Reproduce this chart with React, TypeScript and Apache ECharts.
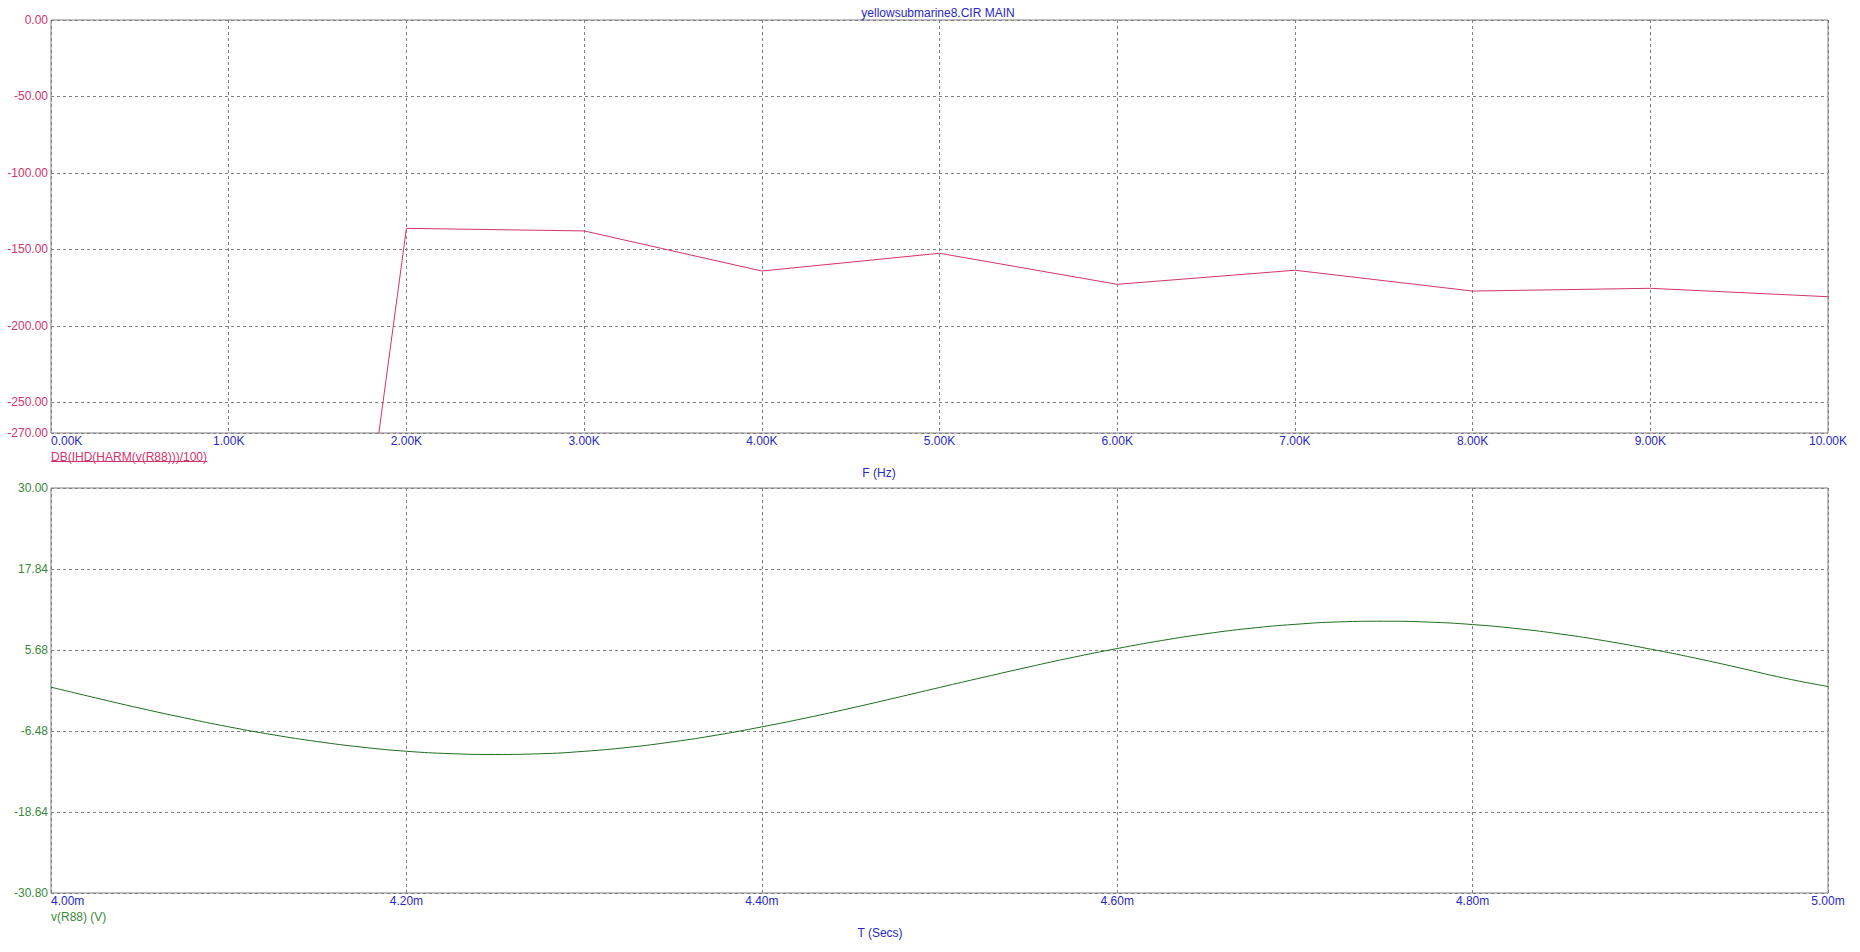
import { useEffect, useRef } from 'react';
import * as echarts from 'echarts';

// Top plot: harmonic distortion (dB) vs frequency
const harmonicFreqHz = [1000, 2000, 3000, 4000, 5000, 6000, 7000, 8000, 9000, 10000];
const harmonicDb = [-1000, -136.2, -137.9, -164.1, -152.5, -172.8, -163.6, -177.2, -175.4, -180.9];
const dbTickValues = [0, -50, -100, -150, -200, -250, -270];

// Bottom plot: v(R88) vs time (ms)
const timeMs = [
  4.0, 4.025, 4.05, 4.075, 4.1, 4.125, 4.15, 4.175, 4.2, 4.225,
  4.25, 4.275, 4.3, 4.325, 4.35, 4.375, 4.4, 4.425, 4.45, 4.475,
  4.5, 4.525, 4.55, 4.575, 4.6, 4.625, 4.65, 4.675, 4.7, 4.725,
  4.75, 4.775, 4.8, 4.825, 4.85, 4.875, 4.9, 4.925, 4.95, 4.975, 5.0,
];
const voltageV = [
  0.1, -1.5, -3.05, -4.5, -5.85, -7.05, -8.07, -8.9, -9.52, -9.88,
  -10.0, -9.9, -9.53, -8.93, -8.1, -7.08, -5.86, -4.52, -3.06, -1.52,
  0.05, 1.6, 3.12, 4.57, 5.9, 7.1, 8.12, 8.94, 9.53, 9.9,
  10.0, 9.87, 9.5, 8.89, 8.06, 7.03, 5.82, 4.48, 3.01, 1.48, 0.2,
];

const PINK = '#d2346c';
const GREEN_LABEL = '#3a8a3a';
const GREEN_LINE = '#1e6e1e';
const BLUE = '#2828c8';
const GRID_GRAY = '#808080';
const FF = '"Liberation Sans", Arial, sans-serif';
const FONT = `12px ${FF}`;

export default function App() {
  const ref = useRef<HTMLDivElement>(null);

  useEffect(() => {
    if (!ref.current) return;
    const chart = echarts.init(ref.current, undefined, { renderer: 'svg' });

    const splitLine = { show: true, lineStyle: { color: GRID_GRAY, type: [3, 3], width: 1 } };

    const option: any = {
      animation: false,
      backgroundColor: '#ffffff',
      grid: [
        { left: 51, top: 20, width: 1777, height: 413, show: true, borderColor: GRID_GRAY, borderWidth: 1, backgroundColor: 'transparent' },
        { left: 51, top: 488, width: 1777, height: 405, show: true, borderColor: GRID_GRAY, borderWidth: 1, backgroundColor: 'transparent' },
      ],
      xAxis: [
        {
          type: 'value', gridIndex: 0, min: 0, max: 10000, interval: 1000,
          axisLine: { show: false }, axisTick: { show: false },
          axisLabel: {
            color: BLUE, fontSize: 12, fontFamily: FF, margin: 2,
            formatter: (v: number) => (v / 1000).toFixed(2) + 'K',
            alignMinLabel: 'left', showMinLabel: true, showMaxLabel: true,
          },
          splitLine,
        },
        {
          type: 'value', gridIndex: 1, min: 4.0, max: 5.0, interval: 0.2,
          axisLine: { show: false }, axisTick: { show: false },
          axisLabel: {
            color: BLUE, fontSize: 12, fontFamily: FF, margin: 2,
            formatter: (v: number) => v.toFixed(2) + 'm',
            alignMinLabel: 'left', showMinLabel: true, showMaxLabel: true,
          },
          splitLine,
        },
      ],
      yAxis: [
        {
          type: 'value', gridIndex: 0, min: -270, max: 0,
          axisLine: { show: false },
          axisTick: { show: false, customValues: dbTickValues },
          axisLabel: {
            customValues: dbTickValues,
            color: PINK, fontSize: 12, fontFamily: FF, margin: 3,
            formatter: (v: number) => v.toFixed(2),
            showMinLabel: true, showMaxLabel: true,
          },
          splitLine,
        },
        {
          type: 'value', gridIndex: 1, min: -30.8, max: 30, interval: 12.16,
          axisLine: { show: false }, axisTick: { show: false },
          axisLabel: {
            color: GREEN_LABEL, fontSize: 12, fontFamily: FF, margin: 3,
            formatter: (v: number) => v.toFixed(2),
            showMinLabel: true, showMaxLabel: true,
          },
          splitLine,
        },
      ],
      series: [
        {
          type: 'line', xAxisIndex: 0, yAxisIndex: 0,
          data: harmonicFreqHz.map((f, i) => [f, harmonicDb[i]]),
          showSymbol: false, symbol: 'none', clip: true,
          lineStyle: { color: PINK, width: 1 },
          silent: true,
        },
        {
          type: 'line', xAxisIndex: 1, yAxisIndex: 1,
          data: timeMs.map((t, i) => [t, voltageV[i]]),
          showSymbol: false, symbol: 'none', clip: true, smooth: true,
          lineStyle: { color: GREEN_LINE, width: 1 },
          silent: true,
        },
      ],
      graphic: [
        {
          type: 'text', x: 938, y: 12.5,
          style: { text: 'yellowsubmarine8.CIR MAIN', fill: BLUE, font: FONT, align: 'center', verticalAlign: 'middle', textAlign: 'center', textVerticalAlign: 'middle' },
        },
        {
          type: 'text', x: 879, y: 472.5,
          style: { text: 'F (Hz)', fill: BLUE, font: FONT, align: 'center', verticalAlign: 'middle', textAlign: 'center', textVerticalAlign: 'middle' },
        },
        {
          type: 'text', x: 880, y: 932.5,
          style: { text: 'T (Secs)', fill: BLUE, font: FONT, align: 'center', verticalAlign: 'middle', textAlign: 'center', textVerticalAlign: 'middle' },
        },
        {
          type: 'text', x: 51, y: 457,
          style: { text: 'DB(IHD(HARM(v(R88)))/100)', fill: PINK, font: FONT, align: 'left', verticalAlign: 'middle', textAlign: 'left', textVerticalAlign: 'middle' },
        },
        {
          type: 'line',
          shape: { x1: 51, y1: 461.5, x2: 207, y2: 461.5 },
          style: { stroke: PINK, lineWidth: 1 },
        },
        {
          type: 'text', x: 51, y: 917,
          style: { text: 'v(R88) (V)', fill: GREEN_LABEL, font: FONT, align: 'left', verticalAlign: 'middle', textAlign: 'left', textVerticalAlign: 'middle' },
        },
      ],
    };

    chart.setOption(option);
    return () => chart.dispose();
  }, []);

  return (
    <div
      ref={ref}
      style={{ position: 'absolute', left: 0, top: 0, width: 1860, height: 952, background: '#fff' }}
    />
  );
}
